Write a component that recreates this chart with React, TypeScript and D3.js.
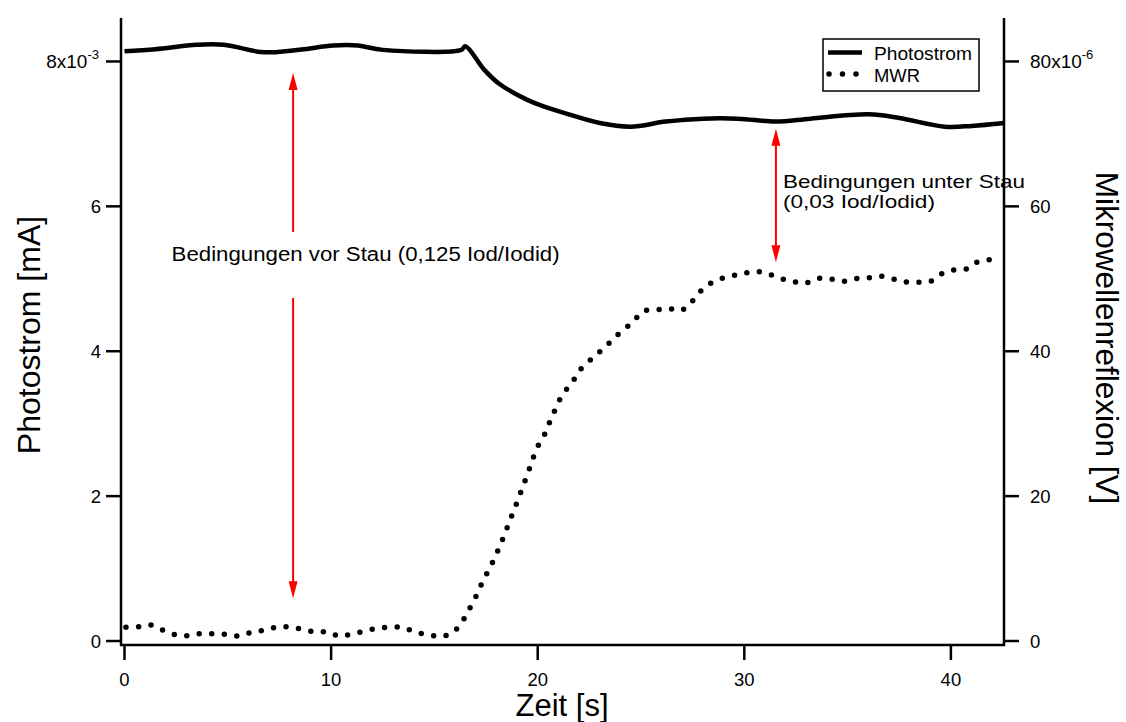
import React from "react";
import * as d3 from "d3";

// ---- data ----
const photoT = [0, 1.5, 3.5, 4.8, 6.6, 7.4, 8.7, 10.1, 11.3, 12.5, 16.3, 16.5, 17.4, 18.1, 19.5, 20.5, 21.5, 23.0, 24.5, 26.2, 28.0, 29.7, 31.5, 33.2, 36.0, 37.5, 39.7, 41.0, 42.6];
const photoV = [8.14, 8.17, 8.23, 8.23, 8.13, 8.13, 8.17, 8.22, 8.22, 8.16, 8.16, 8.21, 7.89, 7.70, 7.47, 7.36, 7.27, 7.15, 7.10, 7.17, 7.21, 7.21, 7.17, 7.21, 7.27, 7.22, 7.10, 7.11, 7.15];

const mwrT = [0.07, 0.72, 1.32, 1.93, 2.53, 3.14, 3.75, 4.35, 4.97, 5.56, 6.18, 6.77, 7.39, 8.0, 8.61, 9.23, 9.84, 10.44, 11.04, 11.67, 12.27, 12.86, 13.48, 14.07, 14.69, 15.3, 15.9, 16.37, 16.71, 17.03, 17.3, 17.61, 17.91, 18.18, 18.42, 18.65, 18.9, 19.13, 19.36, 19.58, 19.79, 20.04, 20.38, 20.62, 20.9, 21.19, 21.67, 22.08, 22.65, 23.26, 23.87, 24.62, 25.12, 25.75, 26.33, 26.91, 27.51, 28.01, 28.6, 29.27, 29.85, 30.48, 31.06, 31.66, 32.27, 32.9, 33.48, 34.09, 34.72, 35.31, 35.93, 36.53, 37.13, 37.74, 38.35, 38.97, 39.56, 40.17, 40.77, 41.39, 42.01];
const mwrV = [1.89, 1.98, 2.21, 1.42, 0.83, 0.73, 1.06, 0.97, 0.92, 0.69, 1.24, 1.48, 1.93, 1.93, 1.62, 1.24, 1.24, 0.64, 1.01, 1.38, 1.8, 1.89, 1.89, 1.2, 0.92, 0.6, 1.2, 2.8, 4.51, 6.26, 7.97, 9.71, 11.42, 13.21, 14.87, 16.62, 18.41, 20.17, 21.92, 23.62, 25.37, 27.07, 28.77, 30.52, 32.28, 33.98, 35.73, 37.53, 39.05, 40.57, 42.27, 44.1, 45.54, 45.72, 45.9, 45.58, 47.0, 48.66, 49.72, 50.32, 50.65, 51.01, 50.79, 50.1, 49.72, 49.35, 50.0, 50.04, 49.63, 50.0, 50.1, 50.37, 50.04, 49.59, 49.54, 49.59, 50.69, 51.24, 51.38, 52.49, 52.62];

const xTicks = [0, 10, 20, 30, 40];
const leftTicks = [0, 2, 4, 6, 8];
const rightTicks = [0, 20, 40, 60, 80];
const leftTickLabels = ["0", "2", "4", "6", "8x10"];
const rightTickLabels = ["0", "20", "40", "60", "80x10"];
const leftExp = "-3";
const rightExp = "-6";

const seriesNames = ["Photostrom", "MWR"];
const xTitle = "Zeit [s]";
const leftTitle = "Photostrom [mA]";
const rightTitle = "Mikrowellenreflexion [V]";

const note1 = "Bedingungen vor Stau (0,125 Iod/Iodid)";
const note2a = "Bedingungen unter Stau";
const note2b = "(0,03 Iod/Iodid)";

export default function App() {
  const W = 1126, H = 722;
  const L = 121, R = 1004, T = 18, B = 645;
  const font = "'Liberation Sans', Arial, Helvetica, sans-serif";

  const x = d3.scaleLinear().domain([-0.17, 42.57]).range([L, R]);
  const yL = d3.scaleLinear().domain([-0.055, 8.6]).range([B, T]);
  const yR = d3.scaleLinear().domain([-0.55, 86]).range([B, T]);

  const photoPath = d3.line<number>()
    .x((_, i) => x(photoT[i]))
    .y((d) => yL(d))
    .curve(d3.curveCatmullRom.alpha(0.5))(photoV) || "";
  const mwrPath = d3.line<number>()
    .x((_, i) => x(mwrT[i]))
    .y((d) => yR(d))
    .curve(d3.curveCatmullRom.alpha(0.5))(mwrV) || "";

  const red = "#ff0000";
  const arrowHead = (cx: number, tipY: number, dir: number) => {
    const len = 17, hw = 4.5;
    const baseY = tipY - dir * len;
    return `M${cx},${tipY} L${cx - hw},${baseY} L${cx + hw},${baseY} Z`;
  };

  const a1x = x(8.16);
  const a1Top = yL(7.84), a1Bot = yL(0.59);
  const a1GapTop = yL(5.646), a1GapBot = yL(4.735);
  const a2x = x(31.53);
  const a2Top = yL(7.07), a2Bot = yL(5.23);

  return (
    <svg width={W} height={H} style={{ position: "absolute", left: 0, top: 0, display: "block", background: "#fff" }} fontFamily={font}>
      <rect x={0} y={0} width={W} height={H} fill="#fff" />

      <line x1={L} y1={T} x2={L} y2={B + 1} stroke="#000" strokeWidth={2.5} />
      <line x1={R} y1={T} x2={R} y2={B + 1} stroke="#000" strokeWidth={2.5} />
      <line x1={L - 1} y1={B} x2={R + 1} y2={B} stroke="#000" strokeWidth={2.5} />

      {xTicks.map((t) => (
        <g key={"xt" + t}>
          <line x1={x(t)} y1={B} x2={x(t)} y2={B + 15} stroke="#000" strokeWidth={2.5} />
          <text x={x(t)} y={686} fontSize={18.5} textAnchor="middle" fill="#000">{t}</text>
        </g>
      ))}

      {leftTicks.map((t, i) => (
        <g key={"lt" + t}>
          <line x1={L - 15} y1={yL(t)} x2={L} y2={yL(t)} stroke="#000" strokeWidth={2.5} />
          {i === leftTicks.length - 1 ? (
            <text x={99} y={yL(t) + 6.5} fontSize={19} textAnchor="end" fill="#000">
              {leftTickLabels[i]}
              <tspan fontSize={13} dy={-9}>{leftExp}</tspan>
            </text>
          ) : (
            <text x={101} y={yL(t) + 6.5} fontSize={18.5} textAnchor="end" fill="#000">{leftTickLabels[i]}</text>
          )}
        </g>
      ))}

      {rightTicks.map((t, i) => (
        <g key={"rt" + t}>
          <line x1={R} y1={yR(t)} x2={R + 15} y2={yR(t)} stroke="#000" strokeWidth={2.5} />
          <text x={1030} y={yR(t) + 6.5} fontSize={i === rightTicks.length - 1 ? 19 : 18.5} textAnchor="start" fill="#000">
            {rightTickLabels[i]}
            {i === rightTicks.length - 1 ? <tspan fontSize={13} dy={-9}>{rightExp}</tspan> : null}
          </text>
        </g>
      ))}

      <text x={562} y={716} fontSize={31} textAnchor="middle" fill="#000">{xTitle}</text>
      <text transform="translate(40,335) rotate(-90)" fontSize={32} textAnchor="middle" fill="#000">{leftTitle}</text>
      <text transform="translate(1096,338) rotate(90)" fontSize={31.5} textAnchor="middle" fill="#000">{rightTitle}</text>

      <path d={photoPath} fill="none" stroke="#000" strokeWidth={4.5} strokeLinejoin="round" />
      <path d={mwrPath} fill="none" stroke="#000" strokeWidth={5.5} strokeLinecap="round" strokeDasharray="0 12.6" />

      <line x1={a1x} y1={a1Top + 15} x2={a1x} y2={a1GapTop} stroke={red} strokeWidth={2} />
      <line x1={a1x} y1={a1GapBot} x2={a1x} y2={a1Bot - 15} stroke={red} strokeWidth={2} />
      <path d={arrowHead(a1x, a1Top, -1)} fill={red} />
      <path d={arrowHead(a1x, a1Bot, 1)} fill={red} />
      <text x={x(2.28)} y={yL(5.25)} fontSize={19.5} textLength={388} lengthAdjust="spacingAndGlyphs" fill="#000">{note1}</text>

      <line x1={a2x} y1={a2Top + 15} x2={a2x} y2={a2Bot - 15} stroke={red} strokeWidth={2} />
      <path d={arrowHead(a2x, a2Top, -1)} fill={red} />
      <path d={arrowHead(a2x, a2Bot, 1)} fill={red} />
      <text x={x(31.87)} y={yL(6.25)} fontSize={19} textLength={242} lengthAdjust="spacingAndGlyphs" fill="#000">{note2a}</text>
      <text x={x(31.87)} y={yL(5.975)} fontSize={19} textLength={152} lengthAdjust="spacingAndGlyphs" fill="#000">{note2b}</text>

      <rect x={823} y={39} width={156} height={52} fill="#fff" stroke="#000" strokeWidth={1.5} />
      <line x1={828} y1={52.5} x2={862} y2={52.5} stroke="#000" strokeWidth={4.5} />
      <line x1={829} y1={74} x2={858} y2={74} stroke="#000" strokeWidth={5.5} strokeLinecap="round" strokeDasharray="0 13.5" />
      <text x={874} y={60} fontSize={18} textLength={98} lengthAdjust="spacingAndGlyphs" fill="#000">{seriesNames[0]}</text>
      <text x={874} y={82} fontSize={18} textLength={46} lengthAdjust="spacingAndGlyphs" fill="#000">{seriesNames[1]}</text>
    </svg>
  );
}
